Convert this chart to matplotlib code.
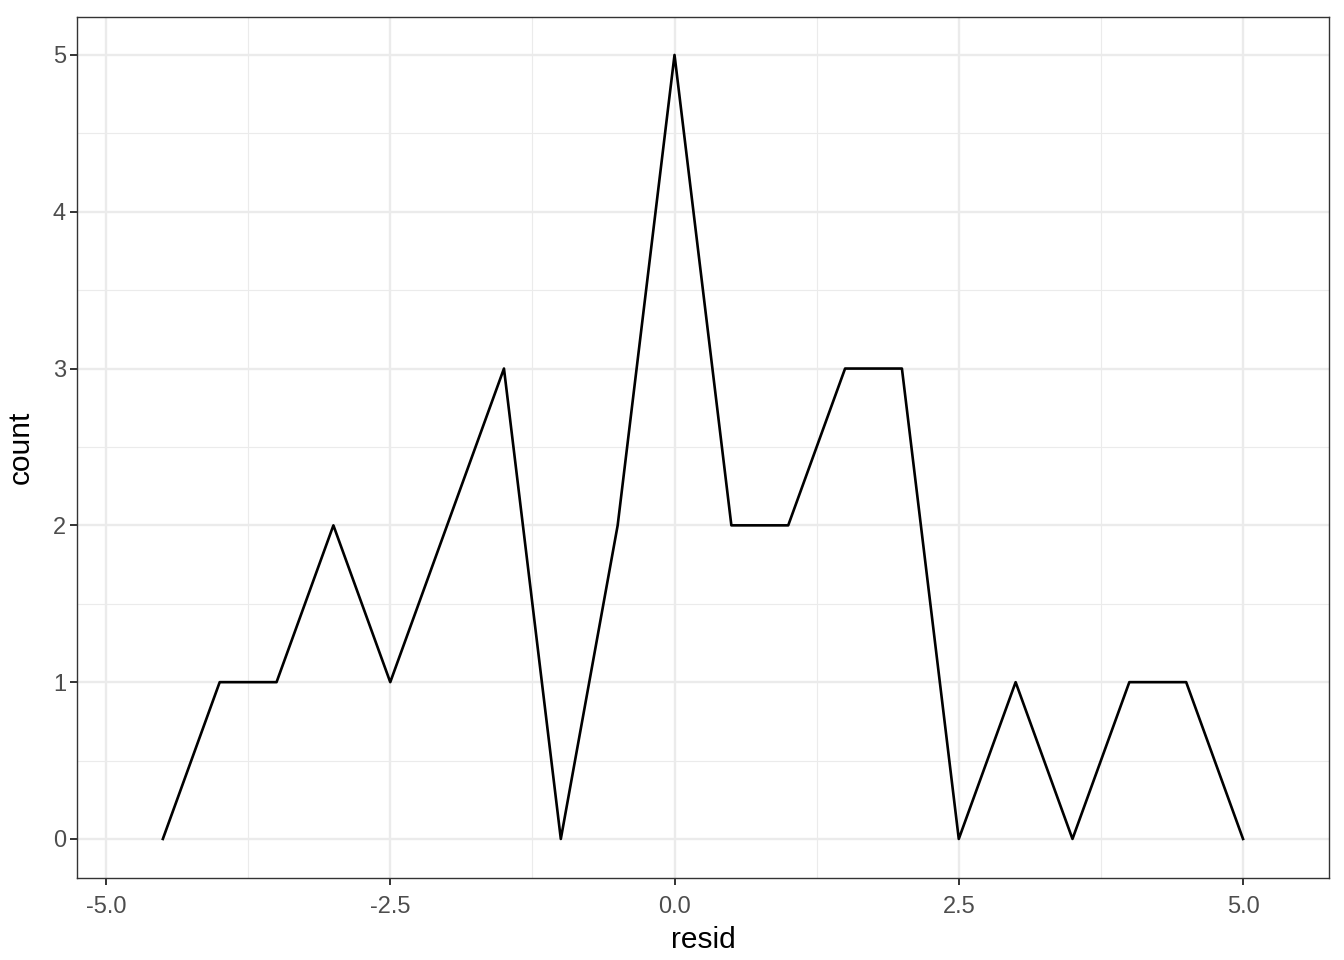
import matplotlib.pyplot as plt

# frequency polygon of residuals (bin centres and counts)
resid = [-4.5, -4.0, -3.5, -3.0, -2.5, -2.0, -1.5, -1.0, -0.5, 0.0,
         0.5, 1.0, 1.5, 2.0, 2.5, 3.0, 3.5, 4.0, 4.5, 5.0]
count = [0, 1, 1, 2, 1, 2, 3, 0, 2, 5,
         2, 2, 3, 3, 0, 1, 0, 1, 1, 0]

xticks = [-5.0, -2.5, 0.0, 2.5, 5.0]
xtick_labels = ["-5.0", "-2.5", "0.0", "2.5", "5.0"]
yticks = [0, 1, 2, 3, 4, 5]

plt.rcParams['font.family'] = ['Liberation Sans', 'DejaVu Sans']

fig = plt.figure(figsize=(13.44, 9.6), dpi=100)
ax = fig.add_axes([77 / 1344, 1 - 878 / 960, (1329 - 77) / 1344, (878 - 17) / 960])

# grid (theme_bw style)
for x in [-3.75, -1.25, 1.25, 3.75]:
    ax.axvline(x, color='#EBEBEB', lw=0.8, zorder=0)
for y in [0.5, 1.5, 2.5, 3.5, 4.5]:
    ax.axhline(y, color='#EBEBEB', lw=0.8, zorder=0)
for x in xticks:
    ax.axvline(x, color='#EBEBEB', lw=1.7, zorder=0)
for y in yticks:
    ax.axhline(y, color='#EBEBEB', lw=1.7, zorder=0)

ax.plot(resid, count, color='black', lw=1.9, zorder=3)

ax.set_xlim(-5.255, 5.756)
ax.set_ylim(-0.249, 5.242)
ax.set_xticks(xticks)
ax.set_xticklabels(xtick_labels)
ax.set_yticks(yticks)

ax.tick_params(axis='both', length=5, width=1.4, color='#333333',
               labelcolor='#4D4D4D', labelsize=17, pad=3)
ax.tick_params(axis='x', pad=8)
for s in ax.spines.values():
    s.set_color('#333333')
    s.set_linewidth(1.0)

ax.set_xlabel("resid", fontsize=21.5, labelpad=6)
ax.set_ylabel("count", fontsize=21.5, labelpad=13)

plt.savefig("out.png", dpi=100)
